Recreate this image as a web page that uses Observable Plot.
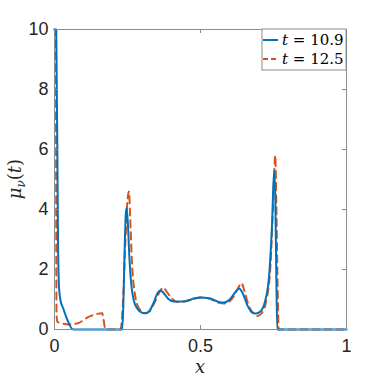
<!DOCTYPE html>
<html><head><meta charset="utf-8">
<script src="https://cdn.jsdelivr.net/npm/d3@7"></script>
<script src="https://cdn.jsdelivr.net/npm/@observablehq/plot@0.6"></script>
<style>body{margin:0;background:#fff}
.serif, .serif tspan { font-family: "DejaVu Serif", serif !important; }
</style>
</head><body><div id="chart"></div>
<script>
const seriesNames = ["t = 10.9", "t = 12.5"];
const seriesColors = ["#0072BD", "#D95319"];
const blueX = [0,0.006,0.012,0.015,0.02,0.03,0.045,0.064,0.232,0.236,0.24,0.244,0.247,0.251,0.256,0.263,0.272,0.285,0.3,0.312,0.325,0.34,0.352,0.363,0.375,0.39,0.41,0.44,0.47,0.5,0.53,0.56,0.58,0.6,0.62,0.632,0.645,0.66,0.675,0.69,0.705,0.72,0.735,0.745,0.752,0.756,0.76,0.763,1];
const blueY = [10,10,3,1.5,1.0,0.7,0.3,0,0,0.9,2.6,3.8,4.05,3.6,2.5,1.5,0.95,0.68,0.56,0.54,0.62,0.9,1.2,1.3,1.2,1.02,0.93,0.93,1.01,1.07,1.04,0.93,0.9,1.0,1.25,1.37,1.2,0.82,0.58,0.53,0.6,0.9,1.8,3.5,5.3,4.5,1.5,0,0];
const orangeX = [0,0.004,0.007,0.01,0.02,0.05,0.08,0.115,0.163,0.175,0.226,0.235,0.243,0.25,0.255,0.259,0.265,0.275,0.29,0.31,0.325,0.34,0.36,0.372,0.385,0.4,0.42,0.45,0.48,0.5,0.53,0.56,0.585,0.61,0.63,0.64,0.65,0.665,0.68,0.695,0.71,0.725,0.74,0.75,0.756,0.76,0.764,0.768,1];
const orangeY = [10,10,0.5,0.25,0.22,0.17,0.21,0.41,0.54,0,0,1.0,3.0,4.3,4.6,3.8,2.3,1.2,0.7,0.55,0.6,0.85,1.25,1.4,1.25,1.05,0.92,0.94,1.03,1.07,1.03,0.9,0.87,1.05,1.4,1.55,1.3,0.8,0.55,0.45,0.55,0.95,2.2,4.5,5.8,4.0,1.5,0,0];
const xTicks = [0, 0.5, 1];
const xTickLabels = ["0", "0.5", "1"];
const yTicks = [0, 2, 4, 6, 8, 10];

const blue = blueX.map((x, i) => ({x, y: blueY[i]}));
const orange = orangeX.map((x, i) => ({x, y: orangeY[i]}));

const W = 382, H = 382, mL = 54, mR = 36, mT = 29, mB = 53;
const pw = W - mL - mR, ph = H - mT - mB;
const tl = 4;
const axisColor = "#8c8c8c";
const font = "Liberation Sans, Arial, sans-serif";

const plot = Plot.plot({
  width: W, height: H,
  marginLeft: mL, marginRight: mR, marginTop: mT, marginBottom: mB,
  x: {domain: [0, 1]},
  y: {domain: [0, 10]},
  style: {fontFamily: font, background: "#fff"},
  marks: [
    Plot.line(orange, {x: "x", y: "y", stroke: seriesColors[1], strokeWidth: 2, strokeDasharray: "7,5", curve: "monotone-x"}),
    Plot.line(blue, {x: "x", y: "y", stroke: seriesColors[0], strokeWidth: 2, curve: "monotone-x"}),
    Plot.frame({stroke: axisColor, strokeWidth: 1}),
    Plot.tickX(xTicks, {x: d => d, insetTop: ph - tl, stroke: axisColor}),
    Plot.tickX(xTicks, {x: d => d, insetBottom: ph - tl, stroke: axisColor}),
    Plot.tickY(yTicks, {y: d => d, insetRight: pw - tl, stroke: axisColor}),
    Plot.tickY(yTicks, {y: d => d, insetLeft: pw - tl, stroke: axisColor}),
    Plot.axisX(xTicks, {tickSize: 0, tickPadding: 10, fontSize: 18, tickFormat: (d, i) => xTickLabels[i], label: null, fill: "#262626"}),
    Plot.axisY(yTicks, {tickSize: 0, tickPadding: 6, fontSize: 18, label: null, fill: "#262626"})
  ]
});
document.getElementById("chart").appendChild(plot);

const svg = d3.select(plot);
// axis labels
svg.append("text").attr("class", "serif").attr("x", mL + pw / 2).attr("y", 373)
  .style("text-anchor", "middle").style("font-style", "italic")
  .style("font-size", "18px").attr("fill", "#262626").text("x");
const yl = svg.append("text").attr("class", "serif").attr("transform", `translate(21,${mT + ph / 2}) rotate(-90)`)
  .style("text-anchor", "middle").style("font-size", "18px").attr("fill", "#262626");
yl.append("tspan").style("font-style", "italic").text("μ");
yl.append("tspan").style("font-style", "italic").style("font-size", "12px").attr("dy", 4).text("ν");
yl.append("tspan").attr("dy", -4).text("(");
yl.append("tspan").style("font-style", "italic").text("t");
yl.append("tspan").text(")");

// legend
const lx = 262, ly = mT, lw = W - mR - lx, lh = 41;
const lg = svg.append("g");
lg.append("rect").attr("x", lx).attr("y", ly).attr("width", lw).attr("height", lh)
  .attr("fill", "#fff").attr("stroke", axisColor).attr("stroke-width", 1);
seriesNames.forEach((name, i) => {
  const cy = ly + 11 + i * 19;
  lg.append("line").attr("x1", lx + 1).attr("x2", lx + 16).attr("y1", cy).attr("y2", cy)
    .attr("stroke", seriesColors[i]).attr("stroke-width", 2)
    .attr("stroke-dasharray", i === 1 ? "5,3" : null);
  const t = lg.append("text").attr("class", "serif").attr("x", lx + 20).attr("y", cy + 5)
    .style("text-anchor", "start").style("font-size", "15px").attr("fill", "#000");
  const parts = name.split(" ");
  t.append("tspan").style("font-style", "italic").text(parts[0]);
  t.append("tspan").text(" " + parts.slice(1).join(" "));
});
</script></body></html>
